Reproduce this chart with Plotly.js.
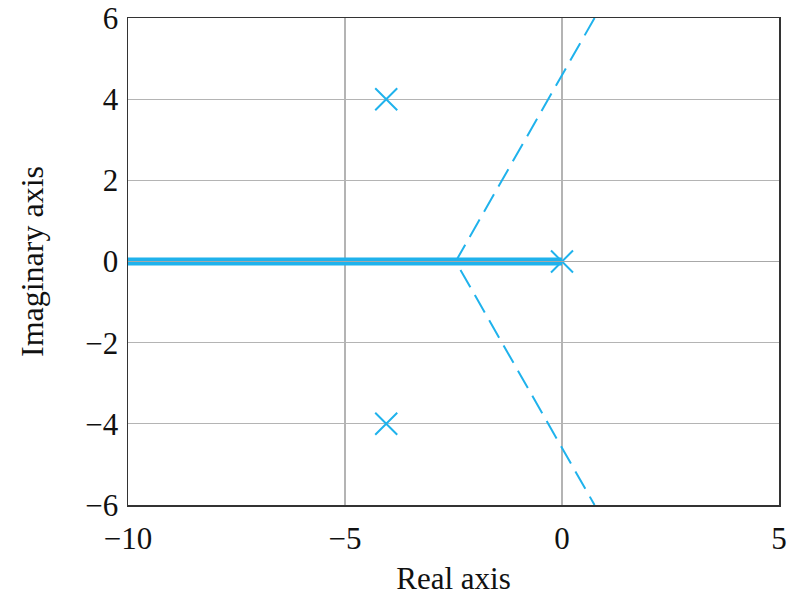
<!DOCTYPE html>
<html>
<head>
<meta charset="utf-8">
<script src="https://cdn.plot.ly/plotly-3.0.1.min.js"></script>
<style>html,body{margin:0;padding:0;background:#fff;}#chart{width:788px;height:596px;}</style>
</head>
<body>
<div id="chart"></div>
<script>
// Root locus data
const locusReal = [-10, 0];
const locusImag = [0, 0];
const asymReal = [0.75, -2.45, 0.75];
const asymImag = [6, 0, -6];
const poleReal = [-4.05, 0, -4.05];
const poleImag = [4, 0, -4];
const xTicks = [-10, -5, 0, 5];
const xTickLabels = ['\u221210', '\u22125', '0', '5'];
const yTicks = [-6, -4, -2, 0, 2, 4, 6];
const yTickLabels = ['\u22126', '\u22124', '\u22122', '0', '2', '4', '6'];

const blue = '#1fb2ec';
const font = 'Liberation Serif, Times New Roman, serif';

const traces = [
  {x: locusReal, y: locusImag, mode: 'lines', line: {color: blue, width: 8}, hoverinfo: 'skip'},
  {x: asymReal, y: asymImag, mode: 'lines', line: {color: blue, width: 2, dash: '20px,9px'}, hoverinfo: 'skip'},
  {x: poleReal, y: poleImag, mode: 'markers', marker: {symbol: 'x-thin', size: 22, line: {color: blue, width: 2}}, hoverinfo: 'skip'}
];

const axisCommon = {
  showgrid: true, gridcolor: '#b4b4b4', gridwidth: 1.2,
  zeroline: false, showline: true, linecolor: '#333', linewidth: 1.5, mirror: true,
  ticks: '', tickfont: {family: font, size: 31, color: '#111'}
};

const layout = {
  width: 788, height: 596,
  margin: {l: 128, r: 9, t: 18, b: 91},
  paper_bgcolor: '#fff', plot_bgcolor: '#fff',
  showlegend: false,
  xaxis: Object.assign({}, axisCommon, {
    range: [-10, 5], tickvals: xTicks, ticktext: xTickLabels, ticklabelstandoff: 5,
    title: {text: 'Real axis', font: {family: font, size: 31, color: '#111'}, standoff: 12}
  }),
  yaxis: Object.assign({}, axisCommon, {
    range: [-6, 6], tickvals: yTicks, ticktext: yTickLabels, ticklabelstandoff: 2,
    title: {text: 'Imaginary axis', font: {family: font, size: 32, color: '#111'}, standoff: 32}
  }),
  shapes: [
    {type: 'line', xref: 'paper', yref: 'y', x0: 0, x1: 1, y0: 0, y1: 0, layer: 'above', line: {color: '#a8a8a8', width: 1.2}}
  ]
};

Plotly.newPlot('chart', traces, layout, {staticPlot: true, displayModeBar: false});
</script>
</body>
</html>
